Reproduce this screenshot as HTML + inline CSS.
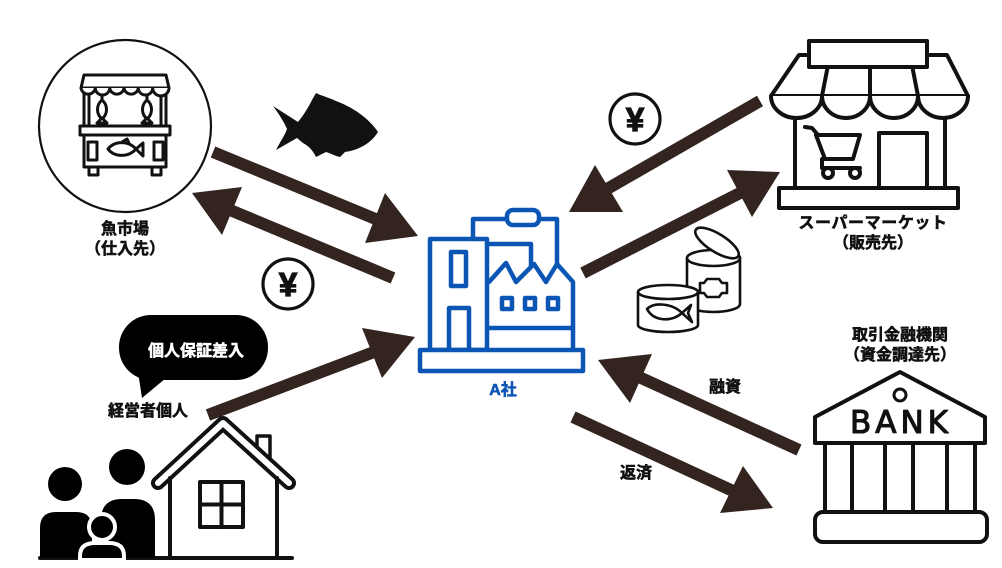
<!DOCTYPE html>
<html>
<head>
<meta charset="utf-8">
<style>
  html,body{margin:0;padding:0;background:#fff;}
  body{width:1002px;height:568px;overflow:hidden;}
  svg{display:block;}
  .lbl{font-family:"Liberation Sans","Noto Sans CJK JP",sans-serif;font-weight:bold;font-size:16px;fill:#111;stroke:#111;stroke-width:0.55px;text-anchor:middle;}
</style>
</head>
<body>
<svg width="1002" height="568" viewBox="0 0 1002 568" xmlns="http://www.w3.org/2000/svg">
  <rect width="1002" height="568" fill="#fff"/>

  <!-- ===== Fish market ===== -->
  <circle cx="125" cy="126" r="86" fill="#fff" stroke="#111" stroke-width="2.2"/>
  <g fill="#fff" stroke="#111" stroke-width="3" stroke-linejoin="round">
    <rect x="84" y="92" width="5" height="34"/>
    <rect x="161" y="92" width="5" height="34"/>
    <path d="M81,88 L84,75 L166,75 L169,88 Z"/>
    <path d="M81,88 A7.2,7 0 0 0 95.3,88 A7.2,7 0 0 0 109.7,88 A7.2,7 0 0 0 124,88 A7.2,7 0 0 0 138.3,88 A7.2,7 0 0 0 152.7,88 A7.2,7 0 0 0 169,88"/>
    <line x1="102" y1="95" x2="102" y2="100"/>
    <path d="M102,100 C108,105 108,114 102,119 C96,114 96,105 102,100 Z"/>
    <path d="M102,118 L97,123 L107,123 Z"/>
    <line x1="147" y1="95" x2="147" y2="100"/>
    <path d="M147,100 C153,105 153,114 147,119 C141,114 141,105 147,100 Z"/>
    <path d="M147,118 L142,123 L152,123 Z"/>
    <rect x="80" y="126" width="90" height="9"/>
    <rect x="84" y="135" width="82" height="32"/>
    <rect x="89" y="167" width="9" height="8"/>
    <rect x="152" y="167" width="9" height="8"/>
    <rect x="88" y="142" width="9" height="18"/>
    <rect x="154" y="142" width="9" height="18"/>
    <path d="M108,149 C114,141 128,140 136,149 C128,158 114,157 108,149 Z"/>
    <path d="M136,149 L143,143 L143,156 Z"/>
    <path d="M122,142 L127,139 L129,143" fill="none"/>
  </g>
  <text class="lbl" x="125" y="234">魚市場</text>
  <text class="lbl" x="125" y="254">（仕入先）</text>

  <!-- ===== Fish silhouette ===== -->
  <path fill="#111" d="M273,106 L298,122 C303,116 308,108 312,100 L316,93 C322,96 330,98 336,101 C355,108 370,120 378,132 C372,142 360,150 345,152 L340,157 C335,156 330,153 326,152 L316,157 C313,151 310,147 303,143 L297,138 L276,150 C280,142 285,135 287,129 C284,122 279,114 273,106 Z"/>

  <!-- ===== Yen symbols ===== -->
  <g>
    <circle cx="288" cy="284" r="25" fill="#fff" stroke="#111" stroke-width="3.2"/>
    <text x="288" y="296" text-anchor="middle" font-family="Liberation Sans, sans-serif" font-weight="bold" font-size="33" fill="#111" stroke="#111" stroke-width="1.2">¥</text>
    <circle cx="635" cy="119" r="25" fill="#fff" stroke="#111" stroke-width="3.2"/>
    <text x="635" y="131" text-anchor="middle" font-family="Liberation Sans, sans-serif" font-weight="bold" font-size="33" fill="#111" stroke="#111" stroke-width="1.2">¥</text>
  </g>

  <!-- ===== Supermarket ===== -->
  <g fill="#fff" stroke="#111" stroke-width="4" stroke-linejoin="round" stroke-linecap="round">
    <line x1="795" y1="116" x2="795" y2="188"/>
    <line x1="945" y1="116" x2="945" y2="188"/>
    <path d="M799,55 L947,55 L968,96 L771,96 Z"/>
    <path d="M771,96 A25.5,22 0 0 0 822,96 A24,22 0 0 0 870,96 A24,22 0 0 0 918,96 A25,22 0 0 0 968,96"/>
    <line x1="830" y1="55" x2="822" y2="96"/>
    <line x1="870" y1="55" x2="870" y2="96"/>
    <line x1="910" y1="55" x2="918" y2="96"/>
    <rect x="809" y="41" width="118" height="26"/>
    <rect x="879" y="133" width="48" height="55"/>
    <rect x="779" y="188" width="179" height="20"/>
    <path d="M805,127 L812,128 L818,135 L860,135 L853,159 L825,159 L816,135" fill="none"/>
    <path d="M822,159 L822,168 L860,168" fill="none"/>
    <circle cx="828" cy="173" r="5"/>
    <circle cx="855" cy="173" r="5"/>
  </g>
  <text class="lbl" x="873" y="228" letter-spacing="0.6">スーパーマーケット</text>
  <text class="lbl" x="873" y="248">（販売先）</text>

  <!-- ===== Cans ===== -->
  <g fill="#fff" stroke="#111" stroke-width="2.6" stroke-linejoin="round">
    <path d="M687,258 L687,304 A26.5,8 0 0 0 740,304 L740,258"/>
    <ellipse cx="713.5" cy="258" rx="26.5" ry="8"/>
    <ellipse cx="717" cy="243" rx="25" ry="9" transform="rotate(32 717 243)"/>
    <path d="M700,283 L704,283 L707,279 L719,279 L722,283 L727,283 L727,293 L722,293 L719,297 L707,297 L704,293 L700,293 Z"/>
    <path d="M638,292 L638,325 A30,7 0 0 0 698,325 L698,292"/>
    <ellipse cx="668" cy="292" rx="30" ry="7"/>
    <path d="M647,309 C654,302 672,303 682,313 C672,322 654,322 647,309 Z"/>
    <path d="M682,313 L691,305 L688,313 L692,322 Z"/>
  </g>

  <!-- ===== A社 building ===== -->
  <g fill="none" stroke="#0b56b4" stroke-width="4.5" stroke-linejoin="round" stroke-linecap="round">
    <path d="M473,239 L473,219 L557,219 L557,266"/>
    <path d="M487,244 L531,244 L531,266"/>
    <rect x="430" y="239" width="57" height="111"/>
    <rect x="451" y="252" width="15" height="34"/>
    <path d="M449,350 L449,308 L469,308 L469,350"/>
    <path d="M489,282 L506,263 L516,282 L534,264 L546,282 L557,264 L573,282 L573,350"/>
    <line x1="489" y1="328" x2="573" y2="328"/>
    <rect x="502" y="298" width="10" height="11"/>
    <rect x="525" y="298" width="10" height="11"/>
    <rect x="548" y="298" width="10" height="11"/>
    <rect x="420" y="350" width="163" height="21" fill="#fff"/>
    <rect x="507" y="210" width="32" height="15" rx="6" fill="#fff"/>
  </g>
  <text class="lbl" x="503" y="395" style="fill:#0b56b4;stroke:#0b56b4">A社</text>

  <!-- ===== Bank ===== -->
  <text class="lbl" x="900" y="340">取引金融機関</text>
  <text class="lbl" x="900" y="360">（資金調達先）</text>
  <g fill="#fff" stroke="#111" stroke-width="4" stroke-linejoin="round" stroke-linecap="round">
    <path d="M900,372 L985,417 L985,443 L815,443 L815,417 Z"/>
    <circle cx="900" cy="395" r="6" stroke-width="3"/>
    <line x1="825" y1="443" x2="825" y2="512"/>
    <line x1="852" y1="443" x2="852" y2="512"/>
    <line x1="885" y1="443" x2="885" y2="512"/>
    <line x1="913" y1="443" x2="913" y2="512"/>
    <line x1="947" y1="443" x2="947" y2="512"/>
    <line x1="975" y1="443" x2="975" y2="512"/>
    <rect x="815" y="512" width="172" height="30" rx="8"/>
  </g>
  <text x="901" y="433" text-anchor="middle" font-family="DejaVu Sans, sans-serif" font-size="31" letter-spacing="4" fill="#111" stroke="#111" stroke-width="1.1" stroke-linejoin="round">BANK</text>

  <!-- ===== Person / family / house ===== -->
  <rect x="119" y="315" width="149" height="65" rx="32" fill="#000"/>
  <path d="M138,372 L142,398 L166,378 Z" fill="#000"/>
  <text class="lbl" x="196" y="356" style="fill:#fff;stroke:#fff">個人保証差入</text>
  <text class="lbl" x="148" y="416">経営者個人</text>

  <g stroke="#111" stroke-linejoin="round" stroke-linecap="round">
    <rect x="257" y="436" width="13" height="22" fill="#fff" stroke-width="3.5"/>
    <path d="M158,483 L223,423 L289,483" fill="none" stroke-width="14"/>
    <path d="M158,483 L223,423 L289,483" fill="none" stroke="#fff" stroke-width="6"/>
    <line x1="170" y1="478" x2="170" y2="558" stroke-width="4"/>
    <line x1="277" y1="478" x2="277" y2="558" stroke-width="4"/>
    <rect x="200" y="482" width="43" height="45" fill="#fff" stroke-width="4"/>
    <line x1="221.5" y1="482" x2="221.5" y2="527" stroke-width="4"/>
    <line x1="200" y1="504.5" x2="243" y2="504.5" stroke-width="4"/>
    <line x1="40" y1="558" x2="292" y2="558" stroke-width="4"/>
  </g>
  <circle cx="65" cy="484" r="17" fill="#000"/>
  <path d="M40,558 L40,528 Q40,512 56,512 L76,512 Q92,512 92,528 L92,558 Z" fill="#000"/>
  <circle cx="127" cy="467" r="18" fill="#000"/>
  <path d="M101,558 L101,520 Q101,499 122,499 L134,499 Q155,499 155,520 L155,558 Z" fill="#000"/>
  <circle cx="102" cy="527" r="13" fill="#000" stroke="#fff" stroke-width="4"/>
  <path d="M80,560 L80,556 Q80,543 95,543 L109,543 Q124,543 124,556 L124,560 Z" fill="#000" stroke="#fff" stroke-width="4"/>

  <!-- ===== Arrows ===== -->
  <g stroke="#33241f" stroke-width="12" fill="none">
    <line x1="213" y1="152" x2="378" y2="220"/>
    <line x1="393" y1="278" x2="230" y2="210"/>
    <line x1="208" y1="415" x2="374" y2="352"/>
    <line x1="760" y1="101" x2="607" y2="189"/>
    <line x1="583" y1="273" x2="742" y2="192"/>
    <line x1="799" y1="450" x2="639" y2="377"/>
    <line x1="573" y1="417" x2="733" y2="491"/>
  </g>
  <g fill="#33241f">
    <polygon points="418,236 385,193 365,243"/>
    <polygon points="192,193 242,187 222,235"/>
    <polygon points="415,337 362,328 382,378"/>
    <polygon points="569,212 595,165 623,212"/>
    <polygon points="780,172 727,170 752,217"/>
    <polygon points="598,360 652,354 630,403"/>
    <polygon points="773,508 743,466 720,513"/>
  </g>
  <text class="lbl" x="725" y="392">融資</text>
  <text class="lbl" x="636" y="478">返済</text>
</svg>
</body>
</html>
